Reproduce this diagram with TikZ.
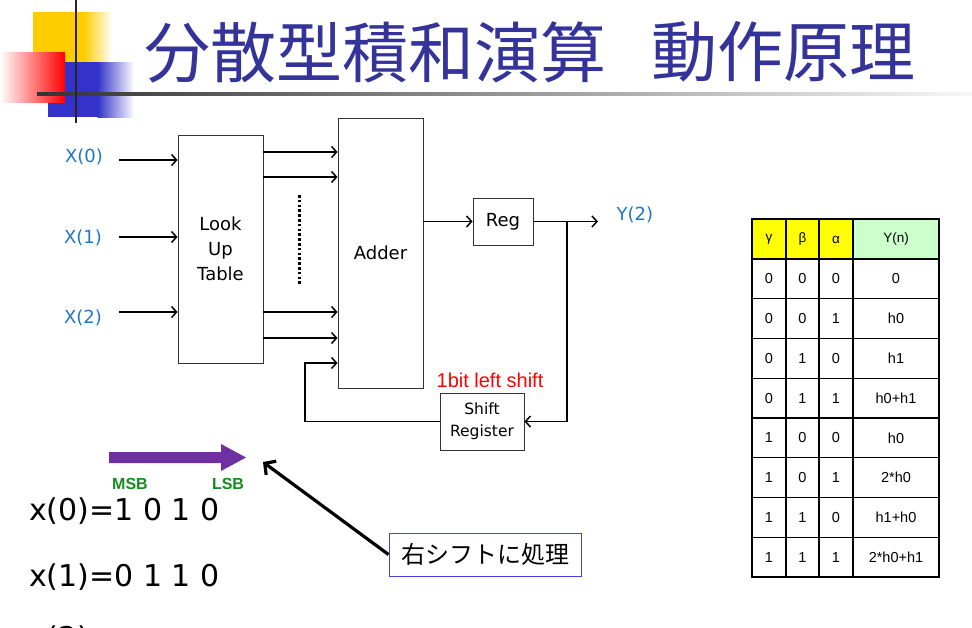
\documentclass[tikz,border=0pt]{standalone}
\usepackage{fontspec}
\setmainfont{DejaVu Sans}
\newfontfamily\jpfont{Noto Sans CJK JP}
\newfontfamily\libfont{Liberation Sans}
\usetikzlibrary{arrows.meta,shadings}
\newcommand\fsz[2]{\fontsize{#1}{#2}\selectfont}
\definecolor{titleblue}{RGB}{51,51,153}
\definecolor{lblue}{RGB}{31,119,200}
\definecolor{purp}{RGB}{112,48,160}
\definecolor{msbgreen}{RGB}{20,140,30}
\definecolor{hdryellow}{RGB}{255,255,0}
\definecolor{hdrgreen}{RGB}{204,255,204}
\definecolor{cornerY}{RGB}{255,204,0}
\definecolor{cornerB}{RGB}{51,51,204}
\definecolor{callblue}{RGB}{70,70,220}
\tikzset{
  blk/.style={draw=black!80, line width=0.9pt, fill=white, inner sep=0pt, align=center, font=\fsz{18}{25}},
  arr/.style={line width=1.5pt, -{Straight Barb[length=5pt,width=11pt]}},
  sig/.style={text=lblue, font=\fsz{18}{18}},
  cell/.style={font=\libfont\fsz{14.5}{14.5}, inner sep=0pt},
}
\begin{document}
\begin{tikzpicture}[x=1pt,y=-1pt]
\useasboundingbox (0,0) rectangle (972,627);
\fill[white] (0,0) rectangle (972,627);
% corner decoration
\fill[cornerY] (33,12) rectangle (84,62);
\shade[left color=cornerY,right color=white] (83.5,12) rectangle (112,62);
\fill[cornerB] (48,62) rectangle (98,117);
\shade[left color=cornerB,right color=white] (97.5,62) rectangle (134,117);
\shade[left color=white,right color=red] (0,52) rectangle (65,102);
\shade[left color=black!80,middle color=black!45,right color=black!3] (37,92.3) rectangle (972,95.3);
\draw[line width=2.4pt, black!85] (76,0) -- (76,123);
% title
\node[anchor=west, text=titleblue, font=\jpfont\fsz{66}{66}, inner sep=0pt] (title) at (144,52) {分散型積和演算};
\node[anchor=west, text=titleblue, font=\jpfont\fsz{66}{66}, inner sep=0pt] (title2) at (651,52) {動作原理};
% blocks
\node[blk, minimum width=85pt, minimum height=228pt] (lut) at (220.5,249) {Look\\Up\\Table};
\node[blk, minimum width=85pt, minimum height=270pt] (adder) at (380.5,253) {Adder};
\node[blk, minimum width=60pt, minimum height=47pt] (reg) at (503,221.5) {Reg};
\node[blk, minimum width=84pt, minimum height=57pt, font=\fsz{15.5}{22}] (sr) at (482,421.5) {Shift\\Register};
% inputs
\node[sig] (x0) at (84,157) {X(0)};
\node[sig] (x1) at (83,238) {X(1)};
\node[sig] (x2) at (83,318) {X(2)};
\coordinate (s0) at (119,160);
\coordinate (s1) at (119,237);
\coordinate (s2) at (119,312);
\draw[arr] (s0) -- (s0 -| lut.west);
\draw[arr] (s1) -- (s1 -| lut.west);
\draw[arr] (s2) -- (s2 -| lut.west);
% LUT outputs
\foreach \yy in {152,177,312,338}{
  \draw[arr] (lut.east |- 0,\yy) -- (adder.west |- 0,\yy);
}
\draw[line width=3pt, dash pattern=on 2.6pt off 2.2pt] (299,195) -- (299,284);
% adder -> reg -> out
\draw[arr] (adder.east |- reg.west) -- (reg.west);
\coordinate (yout) at (598,221.5);
\draw[arr] (reg.east) -- (yout);
\node[sig, anchor=west] (ylab) at (613,215) {Y(2)};
\coordinate (br) at (567,221.5);
\draw[arr] (br) |- (sr.east);
\coordinate (fb) at (305,363);
\draw[arr] (sr.west) -| (fb) -- (fb -| adder.west);
\node[text=red, font=\libfont\fsz{20}{20}] (shl) at (490,380) {1bit left shift};
% truth table
\fill[hdryellow] (752,219) rectangle (853,259);
\fill[hdrgreen] (853,219) rectangle (939,259);
\foreach \cx/\hd [count=\k] in {769/γ,802.5/β,836/α,896/Y(n)}{
  \node[cell, font=\libfont\fsz{13.5}{13.5}] (h\k) at (\cx,239.5) {\hd};
}
\foreach \a/\b/\c/\v [count=\r] in {0/0/0/0,0/0/1/h0,0/1/0/h1,0/1/1/h0+h1,1/0/0/h0,1/0/1/2*h0,1/1/0/h1+h0,1/1/1/2*h0+h1}{
  \pgfmathsetmacro\yc{259+(\r-0.5)*39.75}
  \node[cell] (c\r a) at (769,\yc) {\a};
  \node[cell] (c\r b) at (802.5,\yc) {\b};
  \node[cell] (c\r c) at (836,\yc) {\c};
  \node[cell] (c\r d) at (896,\yc) {\v};
}
\foreach \xx in {786,819,853}{ \draw[line width=1.1pt] (\xx,219) -- (\xx,577); }
\foreach \r in {0,...,8}{ \draw[line width=1.1pt] (752,259+\r*39.75) -- (939,259+\r*39.75); }
\draw[line width=1.3pt] (752,219) rectangle (939,577);
% bottom part
\fill[purp] (109,452) -- (221,452) -- (221,444) -- (246,457.5) -- (221,471) -- (221,463) -- (109,463) -- cycle;
\node[text=msbgreen, font=\libfont\bfseries\fsz{16}{16}] (msb) at (130,484) {MSB};
\node[text=msbgreen, font=\libfont\bfseries\fsz{16}{16}] (lsb) at (228,484) {LSB};
\node[anchor=west, font=\fsz{30}{30}, inner sep=0pt] (bx0) at (29,511) {x(0)=1 0 1 0};
\node[anchor=west, font=\fsz{30}{30}, inner sep=0pt] (bx1) at (29,577) {x(1)=0 1 1 0};
\node[anchor=west, font=\fsz{30}{30}, inner sep=0pt] (bx2) at (29,639) {x(2)};
\node[draw=callblue, line width=1pt, minimum width=192pt, minimum height=43pt, font=\jpfont\fsz{24}{24}, inner sep=0pt] (call) at (485,554.5) {右シフトに処理};
\coordinate (tip) at (263,462);
\draw[line width=3.2pt, -{Straight Barb[length=8pt,width=17pt]}] (call.west) -- (tip);
\end{tikzpicture}
\end{document}
